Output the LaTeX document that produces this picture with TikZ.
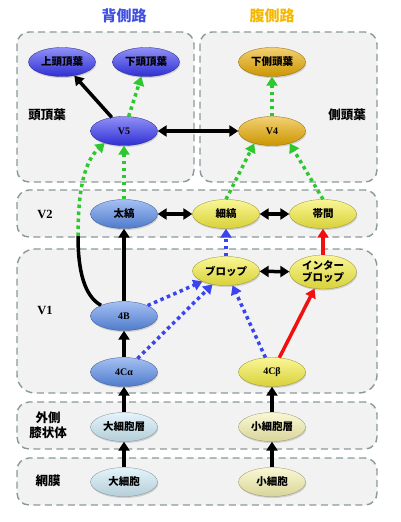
\documentclass[tikz,border=0pt]{standalone}
\usepackage{fontspec}
\setmainfont{Liberation Serif}
\newfontfamily\jpfont{Noto Sans CJK JP}
\usetikzlibrary{arrows.meta, shapes.geometric, shadows}
\definecolor{dorsal}{HTML}{3535F0}
\definecolor{stripe}{HTML}{5A8CE8}
\definecolor{magno}{HTML}{CDEAF6}
\definecolor{ventral}{HTML}{E8AA00}
\definecolor{parvo}{HTML}{F5EE40}
\definecolor{parvol}{HTML}{F6F2B0}
\definecolor{frame}{HTML}{8A9A9A}
\definecolor{regionbg}{HTML}{F2F2F2}
\definecolor{grn}{HTML}{2DC82D}
\definecolor{bluedot}{HTML}{3A45F0}
\definecolor{redline}{HTML}{F01010}
\definecolor{dtitle}{HTML}{3F4FE0}
\definecolor{vtitle}{HTML}{F5B800}

\begin{document}
\begin{tikzpicture}[
    x=1pt, y=-1pt,
    >={Triangle[length=9pt, width=11pt]},
    font=\jpfont\bfseries\fontsize{10.5}{12}\selectfont,
    region/.style={draw=frame, fill=regionbg, line width=1.4pt,
                   dash pattern=on 7pt off 4.5pt, rounded corners=#1},
    region/.default=12pt,
    area/.style={ellipse, minimum width=67pt, minimum height=29pt, inner sep=1pt,
                 align=center, draw=#1!60!black, line width=0.3pt,
                 top color=#1!55!white, middle color=#1, bottom color=#1!88!black,
                 drop shadow={shadow xshift=0.8pt, shadow yshift=-1.5pt, opacity=0.3}},
    lat/.style={font=\rmfamily\bfseries\fontsize{10}{12}\selectfont},
    lab/.style={font=\jpfont\bfseries\fontsize{12.5}{15}\selectfont, align=center},
    title/.style={font=\jpfont\bfseries\fontsize{15}{18}\selectfont},
    fwd/.style={->, line width=3.5pt},
    dbl/.style={<->, line width=3.5pt},
    gdot/.style={->, color=grn, line width=3.5pt, dash pattern=on 3.5pt off 3.5pt},
    bdot/.style={->, color=bluedot, line width=3.5pt, dash pattern=on 3.5pt off 3.5pt},
    redl/.style={->, color=redline, line width=3.5pt},
]
\useasboundingbox (0,0) rectangle (400,522);

% regions
\draw[region] (17,32) rectangle (194,182);
\draw[region] (200,32) rectangle (377,182);
\draw[region] (17,190) rectangle (377,237);
\draw[region=18pt] (17,249) rectangle (377,393);
\draw[region] (17,402) rectangle (377,449);
\draw[region] (17,458) rectangle (377,505);

\node[title, text=dtitle] (dors) at (124,16) {背側路};
\node[title, text=vtitle] (vent) at (272,16) {腹側路};
\node[lab] (parl) at (47,115) {頭頂葉};
\node[lab] (teml) at (347,115) {側頭葉};
\node[lab, font=\rmfamily\bfseries\fontsize{12.5}{15}\selectfont] (v2l) at (45,214) {V2};
\node[lab, font=\rmfamily\bfseries\fontsize{12.5}{15}\selectfont] (v1l) at (45,310) {V1};
\node[lab] (lgnl) at (48,425) {外側\\膝状体};
\node[lab] (retl) at (48,481) {網膜};

\node[area=dorsal] (spl) at (62,62) {上頭頂葉};
\node[area=dorsal] (ipl) at (146,62) {下頭頂葉};
\node[area=dorsal, lat] (v5) at (124,131) {V5};
\node[area=ventral] (itl) at (272,62) {下側頭葉};
\node[area=ventral, lat] (v4) at (272,131) {V4};
\node[area=stripe] (thick) at (124,214) {太縞};
\node[area=parvo] (thin) at (226,214) {細縞};
\node[area=parvo] (inter) at (323,214) {帯間};
\node[area=parvo] (blob) at (226,271) {ブロップ};
\node[area=parvo] (iblob) at (323,272) {インター\\ブロップ};
\node[area=stripe, lat] (l4b) at (124,316) {4B};
\node[area=stripe, lat] (l4ca) at (124,372) {4Cα};
\node[area=parvo, lat] (l4cb) at (272,372) {4Cβ};
\node[area=magno] (mlay) at (124,427) {大細胞層};
\node[area=magno] (mcell) at (124,482) {大細胞};
\node[area=parvol] (play) at (272,427) {小細胞層};
\node[area=parvol] (pcell) at (272,482) {小細胞};

\coordinate (bend) at (78,236);

\draw[fwd] (v5) -- (spl);
\draw[gdot] (v5) -- (ipl);
\draw[dbl] (v5) -- (v4);
\draw[gdot] (v4) -- (itl);
\draw[gdot] (thin.north) -- (v4.215);
\draw[gdot] (inter.north) -- (v4.325);
\draw[gdot] (thick) -- (v5);
\draw[line width=3.5pt] (l4b.155) .. controls (84,296) and (78,270) .. (bend);
\draw[gdot] (bend) .. controls (78,185) and (86,160) .. (v5.212);
\draw[dbl] (thick) -- (thin);
\draw[dbl] (thin) -- (inter);
\draw[bdot] (blob) -- (thin);
\draw[redl] (iblob) -- (inter);
\draw[dbl] (blob) -- (iblob);
\draw[fwd] (l4b) -- (thick);
\draw[bdot] (l4b) -- (blob);
\draw[fwd] (l4ca) -- (l4b);
\draw[bdot] (l4ca) -- (blob);
\draw[bdot] (l4cb) -- (blob);
\draw[redl] (l4cb) -- (iblob);
\draw[fwd] (mlay) -- (l4ca);
\draw[fwd] (mcell) -- (mlay);
\draw[fwd] (play) -- (l4cb);
\draw[fwd] (pcell) -- (play);

\end{tikzpicture}
\end{document}
